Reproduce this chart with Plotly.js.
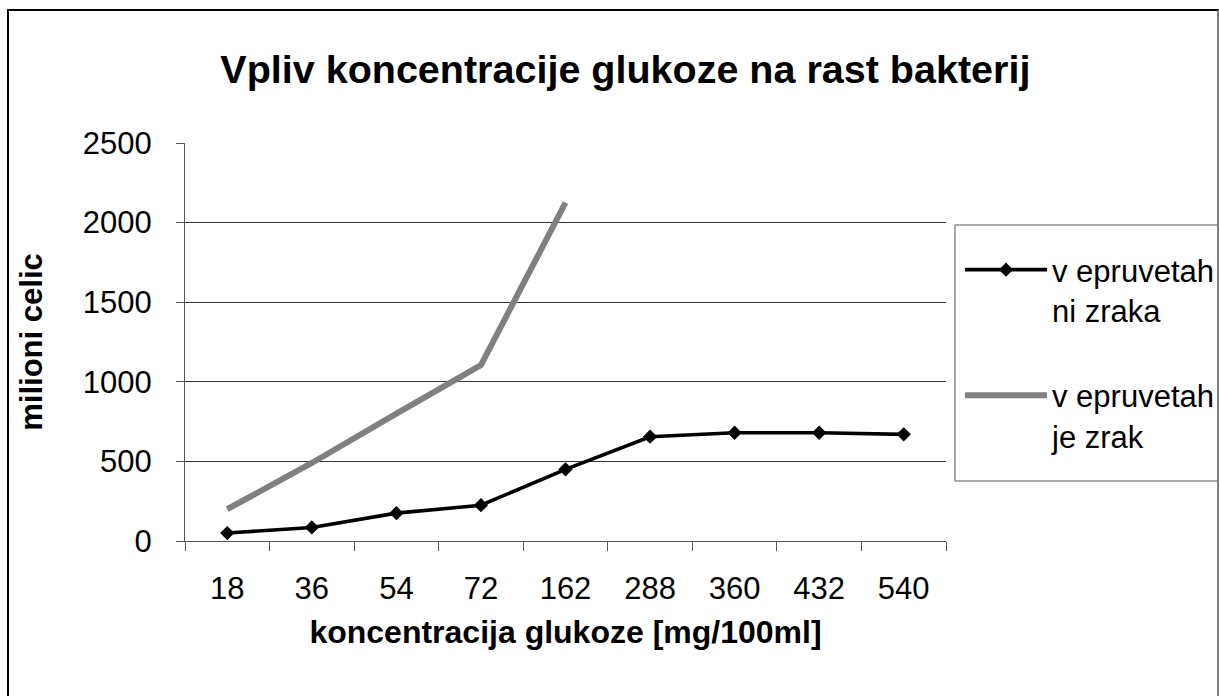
<!DOCTYPE html>
<html>
<head>
<meta charset="utf-8">
<script src="https://cdn.plot.ly/plotly-3.0.1.min.js"></script>
<style>
html,body{margin:0;padding:0;background:#fff;}
#wrap{position:relative;width:1219px;height:696px;}
#chart{width:1219px;height:696px;}
#frame{position:absolute;left:7px;top:9px;width:1212px;height:700px;border-left:2px solid #000;border-top:2px solid #000;border-right:2px solid #808080;box-sizing:border-box;pointer-events:none;}
</style>
</head>
<body>
<div id="wrap">
<div id="chart"></div>
<div id="frame"></div>
</div>
<script>
const categories = ["18","36","54","72","162","288","360","432","540"];
const noAir = [50, 85, 175, 225, 450, 655, 680, 680, 670];
const withAir = [200, 490, 800, 1105, 2125];
const seriesNames = ["v epruvetah<br>ni zraka", "v epruvetah<br>je zrak"];
const yTicks = [0, 500, 1000, 1500, 2000, 2500];

const FONT = "Liberation Sans, Arial, sans-serif";

const traces = [
  {
    x: categories, y: noAir, name: seriesNames[0], type: "scatter", mode: "lines+markers",
    line: {color: "#000000", width: 3.6},
    marker: {symbol: "diamond", size: 11, color: "#000000"},
    legendgroup: "a"
  },
  {
    x: categories.slice(0, withAir.length), y: withAir, name: seriesNames[1], type: "scatter", mode: "lines",
    line: {color: "#808080", width: 6},
    legendgroup: "b"
  }
];

const layout = {
  width: 1219, height: 696,
  margin: {l: 185, r: 273, t: 143, b: 155, autoexpand: false},
  paper_bgcolor: "#ffffff", plot_bgcolor: "#ffffff",
  font: {family: FONT, color: "#000000", size: 31},
  title: {
    text: "<b>Vpliv koncentracije glukoze na rast bakterij</b>",
    font: {family: FONT, size: 39.5, color: "#000000"},
    x: 0.513, xanchor: "center", xref: "container",
    y: 0.9, yanchor: "middle", yref: "container"
  },
  xaxis: {
    type: "category",
    categoryorder: "array", categoryarray: categories,
    range: [-0.5, 8.5],
    showgrid: false, zeroline: false,
    showline: true, linecolor: "#555555", linewidth: 1,
    ticks: "outside", tickson: "boundaries", ticklen: 9, tickcolor: "#555555",
    tickfont: {family: FONT, size: 31, color: "#000000"},
    ticklabelstandoff: 20,
    title: {text: "<b>koncentracija glukoze [mg/100ml]</b>", font: {family: FONT, size: 32, color: "#000000"}, standoff: 15}
  },
  yaxis: {
    range: [0, 2500],
    tickvals: yTicks,
    showgrid: true, gridcolor: "#333333", gridwidth: 1,
    zeroline: false,
    showline: true, linecolor: "#555555", linewidth: 1,
    ticks: "outside", ticklen: 8, tickcolor: "#555555",
    tickfont: {family: FONT, size: 31, color: "#000000"},
    ticklabelstandoff: 18,
    title: {text: "<b>milioni celic</b>", font: {family: FONT, size: 31, color: "#000000"}, standoff: 30}
  },
  shapes: [
    {type: "rect", xref: "paper", yref: "paper", x0: 1.0118, x1: 1.3574, y0: 0.1508, y1: 0.794,
     line: {color: "#555555", width: 1}, fillcolor: "rgba(0,0,0,0)", layer: "below"}
  ],
  showlegend: true,
  legend: {
    x: 1.0184, xanchor: "left", y: 0.7487, yanchor: "top",
    borderwidth: 0, bgcolor: "rgba(0,0,0,0)",
    font: {family: FONT, size: 31, color: "#000000"},
    itemwidth: 82, valign: "top", tracegroupgap: 42,
    traceorder: "grouped"
  }
};

Plotly.newPlot("chart", traces, layout, {displayModeBar: false, staticPlot: true});
</script>
</body>
</html>
